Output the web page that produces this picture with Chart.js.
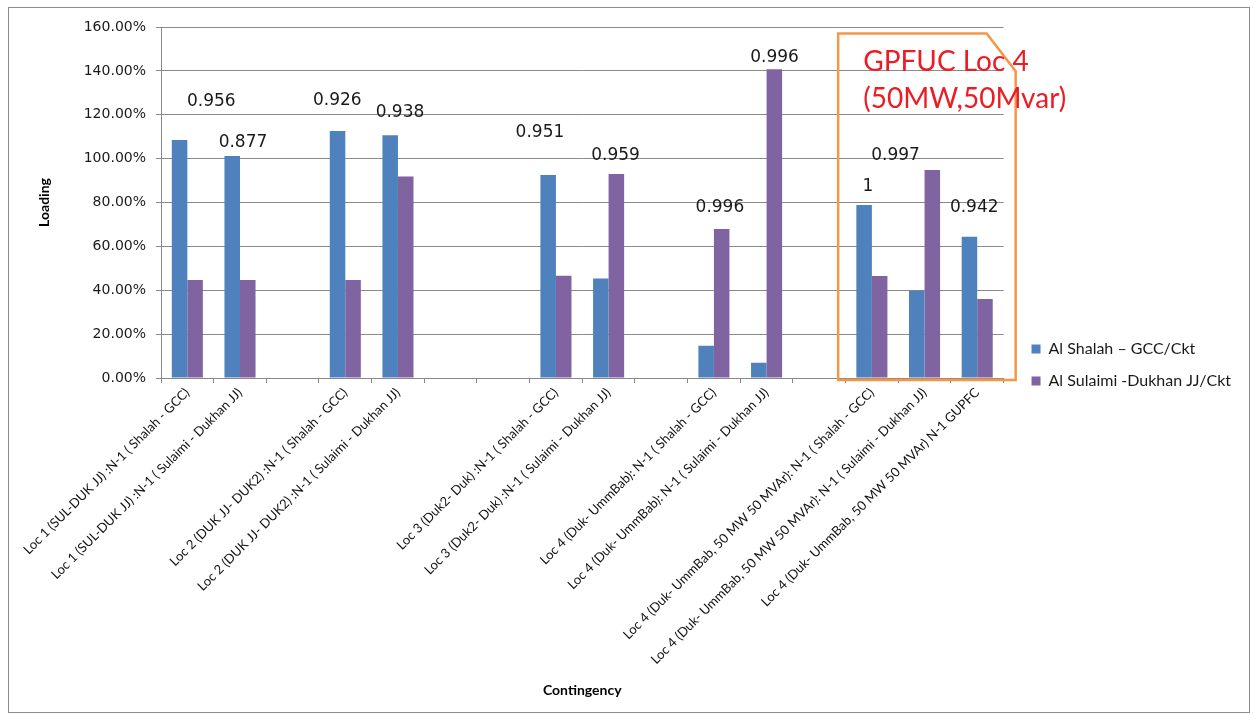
<!DOCTYPE html>
<html lang="en">
<head>
<meta charset="UTF-8">
<title>Loading per contingency</title>
<script src="https://cdn.jsdelivr.net/npm/chart.js"></script>
<style>
  body { margin: 0; background: #fff; }
  #frame { position: absolute; left: 8px; top: 7px; width: 1240px; height: 704px; border: 1px solid #8c8c8c; }
</style>
</head>
<body>
<div id="frame"><canvas id="loadingChart"></canvas></div>

<script>
// categories (empty strings are the blank gaps between groups)
const contingencies = [
  'Loc 1 (SUL-DUK JJ) :N-1 ( Shalah - GCC)',
  'Loc 1 (SUL-DUK JJ) :N-1 ( Sulaimi - Dukhan JJ)',
  '',
  'Loc 2 (DUK JJ- DUK2) :N-1 ( Shalah - GCC)',
  'Loc 2 (DUK JJ- DUK2) :N-1 ( Sulaimi - Dukhan JJ)',
  '',
  '',
  'Loc 3 (Duk2- Duk) :N-1 ( Shalah - GCC)',
  'Loc 3 (Duk2- Duk) :N-1 ( Sulaimi - Dukhan JJ)',
  '',
  'Loc 4 (Duk- UmmBab): N-1 ( Shalah - GCC)',
  'Loc 4 (Duk- UmmBab): N-1 ( Sulaimi - Dukhan JJ)',
  '',
  'Loc 4 (Duk- UmmBab, 50 MW 50 MVAr): N-1 ( Shalah - GCC)',
  'Loc 4 (Duk- UmmBab, 50 MW 50 MVAr): N-1 ( Sulaimi - Dukhan JJ)',
  'Loc 4 (Duk- UmmBab, 50 MW 50 MVAr) N-1 GUPFC'
];

// loading in %
const shalahGcc      = [108.5, 101.2, null, 112.6, 110.6, null, null, 92.5, 45.4, null, 14.7, 7.0, null, 78.9, 39.8, 64.4];
const sulaimiDukhan  = [44.7, 44.7, null, 44.7, 91.8, null, null, 46.6, 93.0, null, 67.9, 140.7, null, 46.5, 94.8, 36.0];

// numbers written above each group
const groupNotes = ['0.956', '0.877', null, '0.926', '0.938', null, null, '0.951', '0.959', null, '0.996', '0.996', null, '1', '0.997', '0.942'];

const yTicks = [0, 20, 40, 60, 80, 100, 120, 140, 160];

// where the group notes sit (y in loading %, x shift in px from category centre)
const noteY  = [125.8, 107.1, null, 126.3, 120.8, null, null, 111.7, 101.6, null, 77.5, 145.9, null, 87.1, 101.6, 77.5];
const noteDx = [24, 3, 0, -8, 2, 0, 0, -16, 7, 0, 6, 8, 0, -4, -29, -3];

const FONT = 'Lato, "Open Sans", sans-serif';

const notesPlugin = {
  id: 'notes',
  afterDatasetsDraw(chart) {
    const ctx = chart.ctx;
    const x = chart.scales.x, y = chart.scales.y;
    ctx.save();
    ctx.font = '17px "DejaVu Sans", sans-serif';
    ctx.fillStyle = '#1a1a1a';
    ctx.textAlign = 'center';
    ctx.textBaseline = 'middle';
    groupNotes.forEach((t, i) => {
      if (t === null) return;
      ctx.fillText(t, x.getPixelForValue(i) + noteDx[i], y.getPixelForValue(noteY[i]));
    });

    // orange callout around the GUPFC cases
    const catW = x.getPixelForValue(1) - x.getPixelForValue(0);
    const left = x.getPixelForValue(13) - catW * 0.64;
    const right = x.getPixelForValue(15) + catW * 0.73;
    const top = y.getPixelForValue(157);
    const bottom = y.getPixelForValue(0) + 2;
    const cut = 29;
    ctx.strokeStyle = '#f79646';
    ctx.lineWidth = 2.5;
    ctx.beginPath();
    ctx.moveTo(left, bottom);
    ctx.lineTo(left, top);
    ctx.lineTo(right - cut, top);
    ctx.lineTo(right, top + cut * 1.3);
    ctx.lineTo(right, bottom);
    ctx.closePath();
    ctx.stroke();

    ctx.fillStyle = '#ec1c24';
    ctx.font = '28px ' + FONT;
    ctx.textAlign = 'left';
    ctx.textBaseline = 'alphabetic';
    ctx.fillText('GPFUC Loc 4', left + 25, top + 37);
    ctx.fillText('(50MW,50Mvar)', left + 25, top + 74);
    ctx.restore();
  }
};

const ctx = document.getElementById('loadingChart').getContext('2d');
new Chart(ctx, {
  type: 'bar',
  data: {
    labels: contingencies,
    datasets: [{
      label: 'Al Shalah \u2013 GCC/Ckt',
      data: shalahGcc,
      backgroundColor: '#4f81bd'
    }, {
      label: 'Al Sulaimi -Dukhan JJ/Ckt',
      data: sulaimiDukhan,
      backgroundColor: '#8064a2'
    }]
  },
  options: {
    responsive: true,
    maintainAspectRatio: false,
    animation: false,
    layout: { padding: { top: 19, right: 8, bottom: 9, left: 0 } },
    datasets: { bar: { categoryPercentage: 0.59, barPercentage: 1 } },
    plugins: {
      tooltip: { enabled: false },
      legend: {
        position: 'right',
        maxWidth: 400,
        labels: {
          boxWidth: 9, boxHeight: 9, padding: 16,
          color: '#1a1a1a',
          font: { family: FONT, size: 16 }
        }
      }
    },
    scales: {
      x: {
        grid: { display: true, drawOnChartArea: false, tickLength: 5, color: '#888', offset: true },
        border: { color: '#888' },
        ticks: {
          autoSkip: false, maxRotation: 45, minRotation: 45, padding: 2,
          color: '#111', font: { family: FONT, size: 13 }
        },
        title: {
          display: true, text: 'Contingency', color: '#000',
          font: { family: FONT, size: 14, weight: 'bold' },
          padding: { top: 0, bottom: 4 }
        },
        afterFit: s => { s.height = 325; }
      },
      y: {
        min: 0, max: 160,
        afterBuildTicks: s => { s.ticks = yTicks.map(v => ({ value: v })); },
        grid: { color: '#8a8a8a', tickLength: 5 },
        border: { color: '#888' },
        ticks: {
          padding: 10, color: '#1a1a1a',
          font: { family: '"DejaVu Sans", sans-serif', size: 14 },
          callback: v => v.toFixed(2) + '%'
        },
        title: {
          display: true, text: 'Loading', color: '#000',
          font: { family: FONT, size: 14, weight: 'bold' },
          padding: { top: 27, bottom: 0 }
        },
        afterFit: s => { s.width = 152; }
      },
      gap: {
        type: 'linear', position: 'right', display: true,
        grid: { display: false }, border: { display: false },
        ticks: { display: false },
        afterFit: s => { s.width = 12; }
      }
    }
  },
  plugins: [notesPlugin]
});
</script>
</body>
</html>
